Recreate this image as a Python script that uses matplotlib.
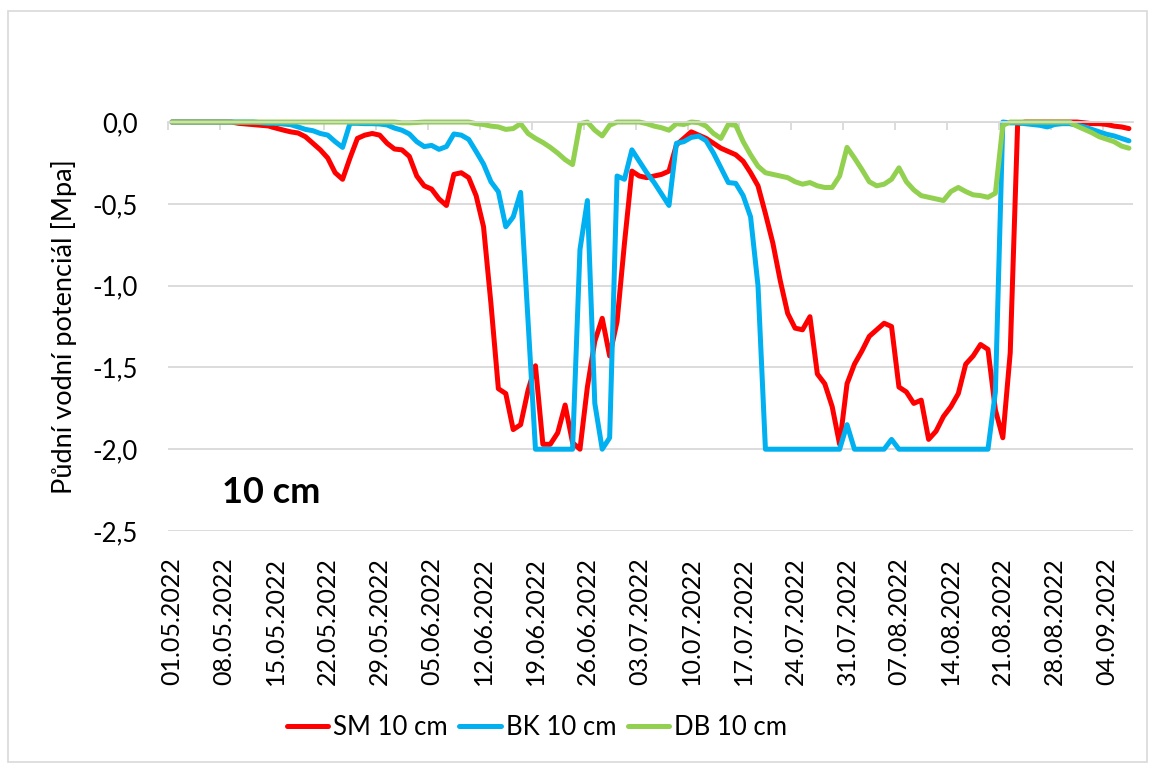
import numpy as np
import pandas as pd
import matplotlib
matplotlib.use("Agg")
import matplotlib.pyplot as plt
from matplotlib.patches import Rectangle

plt.rcParams['font.family'] = ['Lato', 'DejaVu Sans']

# daily soil water potential at 10 cm depth [MPa], 01.05.2022 - 07.09.2022
dates = pd.date_range('2022-05-01', '2022-09-07', freq='D')

sm_10 = [0, 0, 0, 0, 0, 0, 0, 0, 0, -0.008,
         -0.012, -0.016, -0.02, -0.024, -0.037, -0.049, -0.06, -0.067, -0.09, -0.13,
         -0.17, -0.22, -0.31, -0.35, -0.22, -0.10, -0.08, -0.07, -0.08, -0.13,
         -0.165, -0.17, -0.21, -0.33, -0.39, -0.41, -0.47, -0.51, -0.32, -0.31,
         -0.34, -0.45, -0.64, -1.11, -1.63, -1.66, -1.88, -1.85, -1.64, -1.49,
         -1.97, -1.97, -1.90, -1.73, -1.96, -2.0, -1.62, -1.34, -1.20, -1.43,
         -1.22, -0.74, -0.30, -0.33, -0.34, -0.33, -0.32, -0.30, -0.14, -0.10,
         -0.06, -0.08, -0.10, -0.13, -0.16, -0.18, -0.20, -0.24, -0.31, -0.39,
         -0.56, -0.74, -0.97, -1.17, -1.26, -1.27, -1.19, -1.54, -1.60, -1.74,
         -1.97, -1.60, -1.48, -1.40, -1.31, -1.27, -1.23, -1.25, -1.62, -1.65,
         -1.72, -1.70, -1.94, -1.89, -1.80, -1.74, -1.66, -1.48, -1.43, -1.36,
         -1.39, -1.76, -1.93, -1.41, -0.01, 0, 0, 0, 0, 0,
         0, 0, 0, -0.005, -0.01, -0.01, -0.015, -0.025, -0.03, -0.04]

bk_10 = [0, 0, 0, 0, 0, 0, 0, 0, 0, 0,
         0, 0, -0.004, -0.008, -0.008, -0.012, -0.016, -0.03, -0.045, -0.053,
         -0.07, -0.08, -0.12, -0.155, -0.008, -0.008, -0.01, -0.01, -0.012, -0.018,
         -0.037, -0.05, -0.073, -0.12, -0.15, -0.143, -0.167, -0.15, -0.073, -0.08,
         -0.106, -0.18, -0.257, -0.365, -0.426, -0.64, -0.58, -0.43, -1.21, -2.0,
         -2.0, -2.0, -2.0, -2.0, -2.0, -0.78, -0.48, -1.72, -2.0, -1.93,
         -0.33, -0.35, -0.17, -0.24, -0.31, -0.37, -0.44, -0.51, -0.13, -0.12,
         -0.094, -0.086, -0.114, -0.19, -0.28, -0.37, -0.375, -0.45, -0.58, -1.0,
         -2.0, -2.0, -2.0, -2.0, -2.0, -2.0, -2.0, -2.0, -2.0, -2.0,
         -2.0, -1.85, -2.0, -2.0, -2.0, -2.0, -2.0, -1.94, -2.0, -2.0,
         -2.0, -2.0, -2.0, -2.0, -2.0, -2.0, -2.0, -2.0, -2.0, -2.0,
         -2.0, -1.65, 0, -0.005, -0.005, -0.01, -0.015, -0.02, -0.03, -0.015,
         -0.01, -0.01, -0.02, -0.03, -0.045, -0.06, -0.075, -0.085, -0.10, -0.115]

db_10 = [0, 0, 0, 0, 0, 0, 0, 0, 0, 0,
         0, 0, 0, 0, 0, 0, 0, 0, 0, 0,
         0, 0, 0, 0, 0, 0, 0, 0, 0, 0,
         0, -0.005, -0.005, -0.003, 0, 0, 0, 0, 0, 0,
         0, -0.01, -0.015, -0.025, -0.03, -0.045, -0.04, -0.01, -0.07, -0.10,
         -0.125, -0.155, -0.19, -0.23, -0.26, -0.01, 0, -0.05, -0.085, -0.02,
         0, 0, 0, 0, -0.01, -0.025, -0.035, -0.05, -0.01, -0.015,
         0, -0.004, -0.025, -0.07, -0.10, -0.015, -0.02, -0.12, -0.20, -0.27,
         -0.31, -0.32, -0.33, -0.34, -0.365, -0.38, -0.37, -0.39, -0.40, -0.40,
         -0.33, -0.155, -0.22, -0.29, -0.365, -0.39, -0.38, -0.35, -0.28, -0.365,
         -0.415, -0.45, -0.46, -0.47, -0.48, -0.425, -0.40, -0.425, -0.445, -0.45,
         -0.46, -0.435, -0.02, 0, 0, 0, 0, 0, 0, 0,
         0, 0, -0.025, -0.045, -0.065, -0.09, -0.105, -0.12, -0.147, -0.16]

series = [("SM 10 cm", sm_10, "#FF0000"),
          ("BK 10 cm", bk_10, "#00B0F0"),
          ("DB 10 cm", db_10, "#92D050")]

x = np.arange(len(dates))

fig = plt.figure(figsize=(11.5, 7.67), dpi=100)
ax = fig.add_axes([0.1463, 0.3077, 0.8386, 0.5332])

for name, vals, col in series:
    ax.plot(x, vals, color=col, lw=3.6, label=name, clip_on=False,
            solid_joinstyle='round', solid_capstyle='round')

ax.set_xlim(-0.5, len(dates) - 0.5)
ax.set_ylim(-2.5, 0)
yt = np.arange(-2.5, 0.01, 0.5)
ax.set_yticks(yt)
ax.set_yticklabels([f"{v:.1f}".replace('.', ',') for v in yt])
ax.yaxis.grid(True, color='#d9d9d9', lw=1.3)
ax.set_axisbelow(True)

ticks = x[::7]
ax.set_xticks(ticks)
ax.set_xticklabels(dates[::7].strftime('%d.%m.%Y'), rotation=90)
ax.tick_params(axis='x', length=0, pad=19, labelsize=18)
ax.tick_params(axis='y', length=0, pad=22, labelsize=18.5)

for s in ['left', 'right', 'bottom']:
    ax.spines[s].set_visible(False)
ax.spines['top'].set_color('#d9d9d9')
ax.spines['top'].set_linewidth(1.3)

# category tick marks hang down from the zero line
top = ax.secondary_xaxis('top')
top.set_xticks(ticks - 0.5)
top.tick_params(direction='in', length=6, width=1.3, color='#d9d9d9', labeltop=False)
top.spines['top'].set_visible(False)

ax.set_ylabel('Půdní vodní potenciál [Mpa]', fontsize=19.5, labelpad=11)
ax.text(0.1065, 0.095, '10 cm', transform=ax.transAxes, fontsize=26,
        fontweight='bold', ha='center', va='center')

fig.legend(loc='center', bbox_to_anchor=(0.467, 0.051), ncol=3, frameon=False,
           fontsize=18.5, handlelength=1.6, handletextpad=0.2, columnspacing=0.45)

fig.add_artist(Rectangle((7.5 / 1150, 1 - 762 / 767), 1139.5 / 1150, 751 / 767,
                         transform=fig.transFigure, fill=False,
                         edgecolor='#d9d9d9', lw=1.2))

fig.savefig('out.png', dpi=100)
